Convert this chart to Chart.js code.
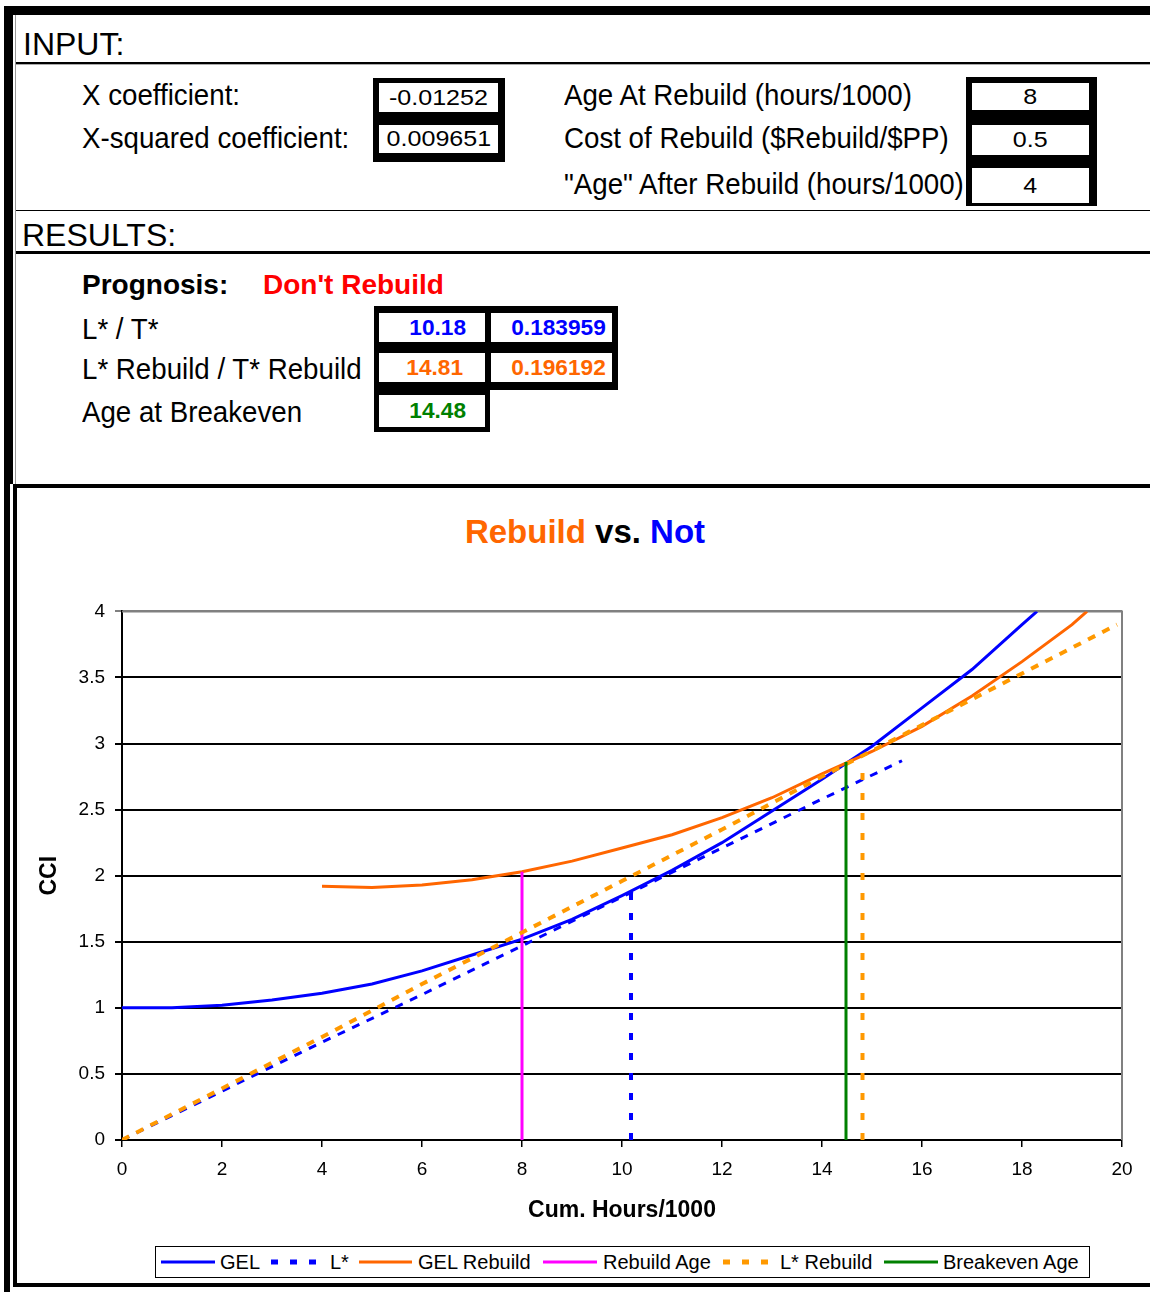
<!DOCTYPE html>
<html>
<head>
<meta charset="utf-8">
<script src="https://cdn.jsdelivr.net/npm/chart.js@4/dist/chart.umd.min.js"></script>
<style>
  body { margin: 0; width: 1150px; height: 1292px; overflow: hidden; background: #fff;
         font-family: "Liberation Sans", Arial, sans-serif; color: #000; position: relative; }
  .abs { position: absolute; line-height: 1; white-space: nowrap; }
  .blk { position: absolute; background: #000; }
  .cell { position: absolute; background: #fff; display: flex; align-items: center; line-height: 1; }
  .inval { justify-content: center; font-size: 22px; }
  .inval span { display: inline-block; transform: scaleX(1.14); }
  .resval { justify-content: flex-end; font-weight: bold; font-size: 22px; }
  .resval span { display: inline-block; transform: scaleX(1.03); transform-origin: right center; }
  .lbl { font-size: 27.7px; transform: scaleY(1.08); }
  .legtxt { font-size: 20px; }
</style>
</head>
<body>
<!-- sheet frame -->
<div class="blk" style="left:4px;top:6px;width:1146px;height:9px"></div>
<div class="blk" style="left:4px;top:6px;width:9px;height:478px"></div>
<div class="blk" style="left:4px;top:484px;width:6px;height:808px"></div>
<div class="abs" style="left:15px;top:15px;width:1px;height:469px;background:#999"></div>

<div class="abs" style="left:23px;top:28px;font-size:32px">INPUT:</div>
<div class="abs" style="left:16px;top:62px;width:1134px;height:2px;background:#000"></div>
<div class="abs" style="left:16px;top:64px;width:1134px;height:1px;background:#aaa"></div>

<div class="abs lbl" style="left:82px;top:81px">X coefficient:</div>
<div class="abs lbl" style="left:82px;top:124px">X-squared coefficient:</div>
<div class="abs lbl" style="left:564px;top:81px">Age At Rebuild (hours/1000)</div>
<div class="abs lbl" style="left:564px;top:124px">Cost of Rebuild ($Rebuild/$PP)</div>
<div class="abs lbl" style="left:564px;top:170px">"Age" After Rebuild (hours/1000)</div>

<div class="blk" style="left:373px;top:78px;width:132px;height:84px"></div>
<div class="cell inval" style="left:379px;top:83px;width:119px;height:29px"><span>-0.01252</span></div>
<div class="cell inval" style="left:379px;top:125px;width:119px;height:28px"><span>0.009651</span></div>

<div class="blk" style="left:966px;top:77px;width:131px;height:129px"></div>
<div class="cell inval" style="left:972px;top:83px;width:117px;height:27px"><span>8</span></div>
<div class="cell inval" style="left:972px;top:125px;width:117px;height:30px"><span>0.5</span></div>
<div class="cell inval" style="left:972px;top:168px;width:117px;height:35px"><span>4</span></div>

<div class="abs" style="left:16px;top:210px;width:1134px;height:1px;background:#000"></div>
<div class="abs" style="left:22px;top:219px;font-size:32px">RESULTS:</div>
<div class="abs" style="left:16px;top:251px;width:1134px;height:3px;background:#000"></div>

<div class="abs" style="left:82px;top:271px;font-size:28px;font-weight:bold">Prognosis:</div>
<div class="abs" style="left:263px;top:271px;font-size:28px;font-weight:bold;color:#ff0000">Don't Rebuild</div>
<div class="abs lbl" style="left:82px;top:315px">L* / T*</div>
<div class="abs lbl" style="left:82px;top:355px">L* Rebuild / T* Rebuild</div>
<div class="abs lbl" style="left:82px;top:398px">Age at Breakeven</div>

<div class="blk" style="left:374px;top:306px;width:244px;height:84px"></div>
<div class="blk" style="left:374px;top:390px;width:116px;height:42px"></div>
<div class="cell resval" style="left:379px;top:313px;width:106px;height:29px;color:#0000ff"><span style="margin-right:19px">10.18</span></div>
<div class="cell resval" style="left:491px;top:313px;width:121px;height:29px;color:#0000ff"><span style="margin-right:6px">0.183959</span></div>
<div class="cell resval" style="left:379px;top:353px;width:106px;height:29px;color:#ff6600"><span style="margin-right:22px">14.81</span></div>
<div class="cell resval" style="left:491px;top:353px;width:121px;height:29px;color:#ff6600"><span style="margin-right:6px">0.196192</span></div>
<div class="cell resval" style="left:379px;top:395px;width:106px;height:32px;color:#008000"><span style="margin-right:19px">14.48</span></div>

<!-- chart frame -->
<div class="abs" style="left:13px;top:484px;width:1137px;height:803px;border-left:4px solid #000;border-top:4px solid #000;border-bottom:4px solid #000;box-sizing:border-box"></div>

<div class="abs" style="left:0;width:1170px;top:515px;text-align:center;font-size:33px;font-weight:bold">
  <span style="color:#ff6600">Rebuild</span> vs. <span style="color:#0000ff">Not</span>
</div>

<canvas id="myChart" width="1130" height="640" style="position:absolute;left:20px;top:590px"></canvas>

<!-- legend -->
<div class="abs" style="left:155px;top:1246px;width:935px;height:32px;border:1px solid #000;box-sizing:border-box"></div>
<svg class="abs" style="left:0;top:1250px" width="1150" height="24">
  <line x1="161" y1="12" x2="215" y2="12" stroke="#0000ff" stroke-width="3"/>
  <line x1="271" y1="12" x2="317" y2="12" stroke="#0000ff" stroke-width="5" stroke-dasharray="7 12"/>
  <line x1="359" y1="12" x2="412" y2="12" stroke="#ff6600" stroke-width="3"/>
  <line x1="543" y1="12" x2="597" y2="12" stroke="#ff00ff" stroke-width="3"/>
  <line x1="723" y1="12" x2="769" y2="12" stroke="#ff9900" stroke-width="5" stroke-dasharray="7 12"/>
  <line x1="884" y1="12" x2="938" y2="12" stroke="#008000" stroke-width="3"/>
</svg>
<div class="abs legtxt" style="left:220px;top:1252px">GEL</div>
<div class="abs legtxt" style="left:330px;top:1252px">L*</div>
<div class="abs legtxt" style="left:418px;top:1252px">GEL Rebuild</div>
<div class="abs legtxt" style="left:603px;top:1252px">Rebuild Age</div>
<div class="abs legtxt" style="left:780px;top:1252px">L* Rebuild</div>
<div class="abs legtxt" style="left:943px;top:1252px">Breakeven Age</div>

<script>
// values (x = cum. hours/1000, y = CCI)
const gelHours = [0, 1, 2, 3, 4, 5, 6, 7, 8, 9, 10, 11, 12, 13, 14, 15, 16, 17, 18, 18.3];
const gelCci = [1.00, 1.00, 1.02, 1.06, 1.11, 1.18, 1.28, 1.40, 1.52, 1.67, 1.85, 2.04, 2.25, 2.49, 2.73, 2.98, 3.27, 3.56, 3.90, 4.00];

const lStarHours = [0, 2, 4, 6, 8, 10, 12, 14, 15.6];
const lStarCci = [0, 0.37, 0.74, 1.10, 1.47, 1.84, 2.21, 2.58, 2.87];

const gelRebuildHours = [4, 5, 6, 7, 8, 9, 10, 11, 12, 13, 14, 15, 16, 17, 18, 19, 19.3];
const gelRebuildCci = [1.92, 1.91, 1.93, 1.97, 2.03, 2.11, 2.21, 2.31, 2.44, 2.59, 2.77, 2.94, 3.13, 3.36, 3.62, 3.90, 4.00];

const lStarRebuildHours = [0, 2, 4, 6, 8, 10, 12, 14, 16, 18, 19.9];
const lStarRebuildCci = [0, 0.39, 0.78, 1.18, 1.57, 1.96, 2.35, 2.75, 3.14, 3.53, 3.90];

// vertical markers: rebuild age, L*, breakeven age, L* rebuild
const markerHours = [8, 10.18, 14.48, 14.81];
const markerTops = [2.03, 1.88, 2.86, 2.82];

const pts = (xs, ys) => xs.map((x, i) => ({x: x, y: ys[i]}));
const vline = (i) => [{x: markerHours[i], y: 0}, {x: markerHours[i], y: markerTops[i]}];

const line = (label, data, color, width, dash, order) => ({
  label: label, data: data, borderColor: color, backgroundColor: color,
  borderWidth: width, borderDash: dash, pointRadius: 0, tension: 0, fill: false, order: order
});

const plotBorder = {
  id: 'plotBorder',
  beforeDatasetsDraw(chart) {
    const a = chart.chartArea, c = chart.ctx;
    c.save();
    c.strokeStyle = '#808080';
    c.lineWidth = 2;
    c.beginPath();
    c.moveTo(a.left, a.top);
    c.lineTo(a.right, a.top);
    c.lineTo(a.right, a.bottom);
    c.stroke();
    c.restore();
  }
};

Chart.defaults.font.family = '"Liberation Sans", Arial, sans-serif';
Chart.defaults.color = '#000';

var ctx = document.getElementById('myChart');
var chart = new Chart(ctx, {
  type: 'line',
  data: {
    datasets: [
      line('GEL', pts(gelHours, gelCci), '#0000ff', 3, [], 8),
      line('L*', pts(lStarHours, lStarCci), '#0000ff', 3, [8, 8], 7),
      line('L*', vline(1), '#0000ff', 4, [7, 13], 7),
      line('GEL Rebuild', pts(gelRebuildHours, gelRebuildCci), '#ff6600', 3, [], 5),
      line('Rebuild Age', vline(0), '#ff00ff', 3, [], 4),
      line('L* Rebuild', pts(lStarRebuildHours, lStarRebuildCci), '#ff9900', 4, [8, 8], 3),
      line('L* Rebuild', vline(3), '#ff9900', 4, [7, 13], 3),
      line('Breakeven Age', vline(2), '#008000', 3, [], 1)
    ]
  },
  options: {
    responsive: false,
    animation: false,
    layout: { padding: { top: 19, right: 28, bottom: 0, left: 0 } },
    plugins: { legend: { display: false }, title: { display: false }, tooltip: { enabled: false } },
    scales: {
      x: {
        type: 'linear', min: 0, max: 20,
        ticks: { stepSize: 2, font: { size: 19 }, padding: 11, maxRotation: 0 },
        grid: { drawOnChartArea: false, drawTicks: true, tickLength: 7, color: '#000', lineWidth: 1.5 },
        border: { color: '#000', width: 2 },
        title: { display: true, text: 'Cum. Hours/1000', font: { size: 23, weight: 'bold' }, padding: { top: 0, bottom: 6 } },
        afterFit(scale) { scale.height = 90; }
      },
      y: {
        type: 'linear', min: 0, max: 4,
        ticks: { stepSize: 0.5, font: { size: 19 }, padding: 10, callback: (v) => String(v) },
        grid: { color: (c) => c.tick.value === 4 ? '#808080' : '#000', lineWidth: 2, tickLength: 7 },
        border: { color: '#000', width: 2 },
        title: { display: true, text: 'CCI', font: { size: 23, weight: 'bold' }, padding: { top: 16, bottom: 0 } },
        afterFit(scale) { scale.width = 102; }
      }
    }
  },
  plugins: [plotBorder]
});
</script>
</body>
</html>
